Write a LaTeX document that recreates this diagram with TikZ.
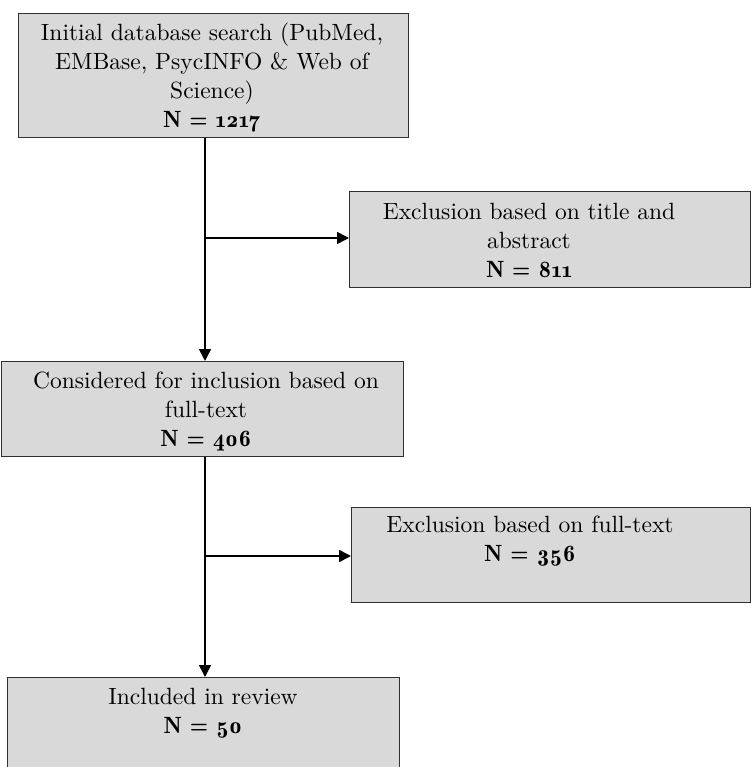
\documentclass[tikz,border=0pt]{standalone}
\usepackage{fontspec}
\setmainfont{lmroman10-regular.otf}[BoldFont=lmromandemi10-regular.otf, Numbers=OldStyle]
\usetikzlibrary{arrows.meta}
\definecolor{boxfill}{HTML}{D9D9D9}
\definecolor{boxline}{HTML}{303030}
\begin{document}
\begin{tikzpicture}[x=1pt,y=-1pt,
  boxshape/.style={draw=boxline, line width=1.4pt, fill=boxfill},
  boxtext/.style={align=center, inner sep=0pt, font=\fontsize{23.5}{29}\selectfont},
  arr/.style={line width=1.6pt, -{Triangle[length=12pt,width=12pt]}}]
\useasboundingbox (0,0) rectangle (751,767);
% boxes
\node[boxshape, rectangle, anchor=north west, minimum width=390pt, minimum height=124pt] (box1) at (18,13) {};
\node[boxshape, rectangle, anchor=north west, minimum width=401pt, minimum height=96pt] (box2) at (349,191) {};
\node[boxshape, rectangle, anchor=north west, minimum width=402pt, minimum height=95pt] (box3) at (1,361) {};
\node[boxshape, rectangle, anchor=north west, minimum width=399pt, minimum height=95pt] (box4) at (351,507) {};
\node[boxshape, rectangle, anchor=north west, minimum width=392pt, minimum height=110pt] (box5) at (7,677) {};
% texts
\node[boxtext] (t1) at (212,78) {Initial database search (PubMed,\\EMBase, PsycINFO \& Web of\\Science)\\\textbf{N = 1217}};
\node[boxtext] (t2) at (529,240) {Exclusion based on title and\\abstract\\\textbf{N = 811}};
\node[boxtext] (t3) at (206,411) {Considered for inclusion based on\\full-text\\\textbf{N = 406}};
\node[boxtext] (t4) at (530,541) {Exclusion based on full-text\\\textbf{N = 356}};
\node[boxtext] (t5) at (203,713) {Included in review\\\textbf{N = 50}};
% connectors
\coordinate (v) at (205,0);
\coordinate (j1) at (205,238);
\coordinate (j2) at (205,556);
\draw[arr] (box1.south -| v) -- (box3.north -| v);
\draw[arr] (box3.south -| v) -- (box5.north -| v);
\draw[arr] (j1) -- (j1 -| box2.west);
\draw[arr] (j2) -- (j2 -| box4.west);
\end{tikzpicture}
\end{document}
